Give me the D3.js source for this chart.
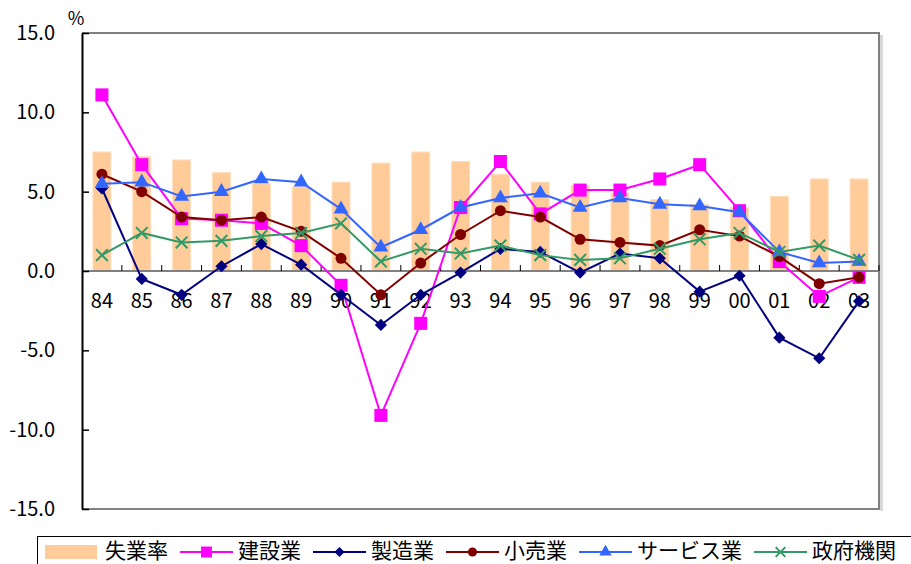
<!DOCTYPE html>
<html>
<head>
<meta charset="utf-8">
<script src="https://cdn.jsdelivr.net/npm/d3@7/dist/d3.min.js"></script>
<style>
  html, body { margin: 0; padding: 0; background: #fff; }
  svg { display: block; font-family: "Noto Sans CJK JP", "Noto Sans", sans-serif; font-weight: 400; }
</style>
</head>
<body>
<svg id="chart" width="911" height="564"></svg>
<script>
// Year labels (1984 - 2003)
const years = ["84","85","86","87","88","89","90","91","92","93","94","95","96","97","98","99","00","01","02","03"];

// 失業率 (bars)
const unemployment = [7.5, 7.2, 7.0, 6.2, 5.5, 5.3, 5.6, 6.8, 7.5, 6.9, 6.1, 5.6, 5.4, 4.9, 4.5, 4.2, 4.0, 4.7, 5.8, 5.8];

// Employment growth by sector (%)
const construction  = [11.1, 6.7, 3.3, 3.2, 3.0, 1.6, -0.9, -9.1, -3.3, 4.0, 6.9, 3.6, 5.1, 5.1, 5.8, 6.7, 3.8, 0.6, -1.6, -0.4];
const manufacturing = [5.2, -0.5, -1.5, 0.3, 1.7, 0.4, -1.5, -3.4, -1.5, -0.1, 1.4, 1.2, -0.1, 1.1, 0.8, -1.3, -0.3, -4.2, -5.5, -1.9];
const retail        = [6.1, 5.0, 3.4, 3.2, 3.4, 2.5, 0.8, -1.5, 0.5, 2.3, 3.8, 3.4, 2.0, 1.8, 1.6, 2.6, 2.2, 0.9, -0.8, -0.4];
const services      = [5.5, 5.6, 4.7, 5.0, 5.8, 5.6, 3.9, 1.5, 2.6, 4.0, 4.6, 4.9, 4.0, 4.6, 4.2, 4.1, 3.7, 1.2, 0.5, 0.6];
const government    = [1.0, 2.4, 1.8, 1.9, 2.2, 2.4, 3.0, 0.6, 1.4, 1.1, 1.6, 1.0, 0.7, 0.8, 1.4, 2.0, 2.4, 1.2, 1.6, 0.7];

const yTicks = [-15, -10, -5, 0, 5, 10, 15];
const unitLabel = "%";

const barName = "失業率";
const lineSeries = [
  { name: "建設業",     values: construction,  color: "#FF00FF", symbol: d3.symbolSquare,   size: 170, stroke: false },
  { name: "製造業",     values: manufacturing, color: "#000080", symbol: d3.symbolDiamond2, size: 95,  stroke: false },
  { name: "小売業",     values: retail,        color: "#800000", symbol: d3.symbolCircle,   size: 95,  stroke: false },
  { name: "サービス業", values: services,      color: "#3366FF", symbol: d3.symbolTriangle, size: 95,  stroke: false },
  { name: "政府機関",   values: government,    color: "#339966", symbol: d3.symbolX,        size: 90,  stroke: true  }
];

const svg = d3.select("#chart");
const plot = { left: 82, right: 879, top: 33, bottom: 509 };

const x = d3.scaleBand()
  .domain(years)
  .range([plot.left, plot.right])
  .paddingInner(0.55)
  .paddingOuter(0.275);
const cx = d => x(d) + x.bandwidth() / 2;

const y = d3.scaleLinear().domain([-15, 15]).range([plot.bottom, plot.top]);

// Frame: top, right and bottom edges in grey, with a soft shadow on the right
svg.append("rect")
  .attr("x", plot.right + 1).attr("y", plot.top + 2)
  .attr("width", 3).attr("height", plot.bottom - plot.top)
  .attr("fill", "#d8d8d8");
svg.append("path")
  .attr("d", `M${plot.left},${plot.top}H${plot.right}V${plot.bottom}H${plot.left}`)
  .attr("fill", "none").attr("stroke", "#808080").attr("stroke-width", 2);

// Bars
svg.append("g").selectAll("rect")
  .data(unemployment)
  .join("rect")
  .attr("x", (d, i) => x(years[i]))
  .attr("width", x.bandwidth())
  .attr("y", d => y(d))
  .attr("height", d => y(0) - y(d))
  .attr("fill", "#FFCC99")
  .attr("stroke", "#FFDDBB")
  .attr("stroke-width", 1);

// Zero line with category dividers
svg.append("line")
  .attr("x1", plot.left).attr("x2", plot.right)
  .attr("y1", y(0)).attr("y2", y(0))
  .attr("stroke", "#808080").attr("stroke-width", 2);
svg.append("g").selectAll("line")
  .data(years)
  .join("line")
  .attr("x1", d => x(d) + x.bandwidth() + x.step() * x.paddingInner() / 2)
  .attr("x2", d => x(d) + x.bandwidth() + x.step() * x.paddingInner() / 2)
  .attr("y1", y(0)).attr("y2", y(0) - 6)
  .attr("stroke", "#000").attr("stroke-width", 1);

// Year labels under the zero line
svg.append("g").selectAll("text")
  .data(years)
  .join("text")
  .attr("x", d => cx(d))
  .attr("y", y(0) + 32)
  .attr("text-anchor", "middle")
  .attr("dominant-baseline", "middle")
  .attr("font-size", 20)
  .attr("fill", "#000")
  .text(d => d);

// Y axis
const yAxis = d3.axisLeft(y)
  .tickValues(yTicks)
  .tickSizeInner(-7)
  .tickSizeOuter(0)
  .tickPadding(27)
  .tickFormat(d => d3.format(".1f")(d).replace("\u2212", "-"));
const gy = svg.append("g").attr("transform", `translate(${plot.left},0)`).call(yAxis);
gy.select(".domain").attr("stroke", "#000").attr("stroke-width", 2);
gy.selectAll(".tick line").attr("stroke", "#000").attr("stroke-width", 1.5);
gy.selectAll(".tick text")
  .attr("font-size", 20)
  .attr("font-family", "\"Noto Sans CJK JP\", sans-serif")
  .attr("fill", "#000");

svg.append("text")
  .attr("x", 76).attr("y", 20)
  .attr("text-anchor", "middle")
  .attr("dominant-baseline", "middle")
  .attr("font-size", 18)
  .attr("fill", "#000")
  .text(unitLabel);

// Lines and markers
const line = d3.line().x((d, i) => cx(years[i])).y(d => y(d));
lineSeries.forEach(s => {
  const g = svg.append("g");
  g.append("path")
    .datum(s.values)
    .attr("d", line)
    .attr("fill", "none")
    .attr("stroke", s.color)
    .attr("stroke-width", 2);
  g.selectAll("path.mark")
    .data(s.values)
    .join("path")
    .attr("class", "mark")
    .attr("transform", (d, i) => `translate(${cx(years[i])},${y(d)})`)
    .attr("d", d3.symbol(s.symbol, s.size))
    .attr("fill", s.stroke ? "none" : s.color)
    .attr("stroke", s.stroke ? s.color : "none")
    .attr("stroke-width", 2);
});

// Legend
const legend = svg.append("g");
legend.append("rect")
  .attr("x", 37.5).attr("y", 536.5)
  .attr("width", 900).attr("height", 60)
  .attr("fill", "#fff").attr("stroke", "#000").attr("stroke-width", 1);

const legY = 552;
let lx = 45;
legend.append("rect")
  .attr("x", lx).attr("y", legY - 7)
  .attr("width", 52).attr("height", 14)
  .attr("fill", "#FFCC99");
lx += 52 + 8;
let t = legend.append("text")
  .attr("x", lx).attr("y", legY)
  .attr("dominant-baseline", "middle")
  .attr("font-size", 21).attr("fill", "#000")
  .text(barName);
lx += t.node().getComputedTextLength() + 12;

lineSeries.forEach(s => {
  legend.append("line")
    .attr("x1", lx).attr("x2", lx + 53)
    .attr("y1", legY).attr("y2", legY)
    .attr("stroke", s.color).attr("stroke-width", 2);
  legend.append("path")
    .attr("transform", `translate(${lx + 26.5},${legY})`)
    .attr("d", d3.symbol(s.symbol, s.size * 0.7))
    .attr("fill", s.stroke ? "none" : s.color)
    .attr("stroke", s.stroke ? s.color : "none")
    .attr("stroke-width", 2);
  lx += 53 + 5;
  const tt = legend.append("text")
    .attr("x", lx).attr("y", legY)
    .attr("dominant-baseline", "middle")
    .attr("font-size", 21).attr("fill", "#000")
    .text(s.name);
  lx += tt.node().getComputedTextLength() + 12;
});
</script>
</body>
</html>
